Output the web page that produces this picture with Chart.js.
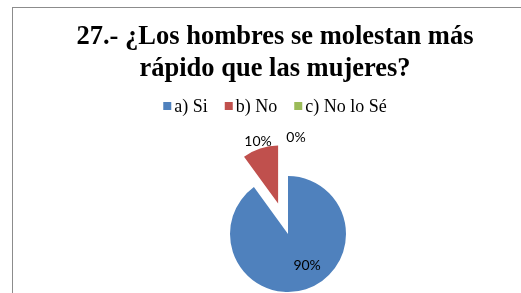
<!DOCTYPE html>
<html>
<head>
<meta charset="utf-8">
<script src="https://cdn.jsdelivr.net/npm/chart.js@4/dist/chart.umd.min.js"></script>
<style>
  html, body { margin: 0; padding: 0; background: #ffffff; }
  canvas { display: block; }
</style>
</head>
<body>
<canvas id="c" width="521" height="293"></canvas>
<script>
// ---- data ----
const titleLines = ['27.- ¿Los hombres se molestan más', 'rápido que las mujeres?'];
const categories = ['a) Si', 'b) No', 'c) No lo Sé'];
const percentages = [90, 10, 0];
const sliceColors = ['#4F81BD', '#C0504D', '#9BBB59'];

// ---- plugins ----
const framePlugin = {
  id: 'frame',
  beforeDraw(chart) {
    const ctx = chart.ctx;
    ctx.save();
    ctx.fillStyle = '#ffffff';
    ctx.fillRect(0, 0, chart.width, chart.height);
    ctx.strokeStyle = '#8c8c8c';
    ctx.lineWidth = 1;
    ctx.strokeRect(12.5, 7.5, chart.width + 20, chart.height + 20);
    ctx.restore();
  }
};

const headerPlugin = {
  id: 'header',
  afterDraw(chart) {
    const ctx = chart.ctx;
    const cx = 275;
    ctx.save();
    ctx.fillStyle = '#000000';
    ctx.textAlign = 'center';
    ctx.textBaseline = 'alphabetic';
    ctx.font = 'bold 26.5px "Liberation Serif", "Times New Roman", serif';
    ctx.fillText(titleLines[0], cx, 44);
    ctx.fillText(titleLines[1], cx, 76);

    // legend
    ctx.font = '18px "Liberation Serif", "Times New Roman", serif';
    const box = 8, gapBox = 3, gapItem = 17;
    const widths = categories.map(t => ctx.measureText(t).width);
    const total = widths.reduce((s, w) => s + box + gapBox + w, 0) + gapItem * (categories.length - 1);
    let x = cx - total / 2;
    ctx.textAlign = 'left';
    categories.forEach((t, i) => {
      ctx.fillStyle = sliceColors[i];
      ctx.fillRect(x, 102, box, box);
      ctx.fillStyle = '#000000';
      ctx.fillText(t, x + box + gapBox, 112);
      x += box + gapBox + widths[i] + gapItem;
    });
    ctx.restore();
  }
};

const explodePlugin = {
  id: 'explode',
  beforeDatasetDraw(chart, args, opts) {
    const ctx = chart.ctx;
    args.meta.data.forEach((arc, i) => {
      const d = opts.distances[i] || 0;
      const mid = (arc.startAngle + arc.endAngle) / 2;
      ctx.save();
      ctx.translate(Math.cos(mid) * d, Math.sin(mid) * d);
      arc.draw(ctx, chart.chartArea);
      ctx.restore();
    });
    return false;
  },
  afterDatasetsDraw(chart, args, opts) {
    const ctx = chart.ctx;
    const meta = chart.getDatasetMeta(0);
    const data = chart.data.datasets[0].data;
    ctx.save();
    ctx.font = '14px Lato, "Open Sans", sans-serif';
    ctx.fillStyle = '#000000';
    ctx.textAlign = 'center';
    ctx.textBaseline = 'middle';
    meta.data.forEach((arc, i) => {
      const d = opts.distances[i] || 0;
      const mid = (arc.startAngle + arc.endAngle) / 2;
      const r = arc.outerRadius * opts.labelRadius[i];
      const nudge = opts.labelNudge[i];
      const x = arc.x + Math.cos(mid) * (d + r) + nudge[0];
      const y = arc.y + Math.sin(mid) * (d + r) + nudge[1];
      ctx.fillText(data[i] + '%', x, y);
    });
    ctx.restore();
  }
};

new Chart(document.getElementById('c'), {
  type: 'pie',
  data: {
    labels: categories,
    datasets: [{
      data: percentages,
      backgroundColor: sliceColors,
      borderWidth: 0
    }]
  },
  options: {
    responsive: false,
    animation: false,
    radius: 58,
    layout: { padding: { left: 238, right: 183, top: 184, bottom: 9 } },
    plugins: {
      legend: { display: false },
      title: { display: false },
      tooltip: { enabled: false },
      explode: {
        distances: [0, 32, 32],
        labelRadius: [0.62, 1.12, 1.12],
        labelNudge: [[8, -3], [0, 0], [8, 0]]
      }
    }
  },
  plugins: [framePlugin, headerPlugin, explodePlugin]
});
</script>
</body>
</html>
